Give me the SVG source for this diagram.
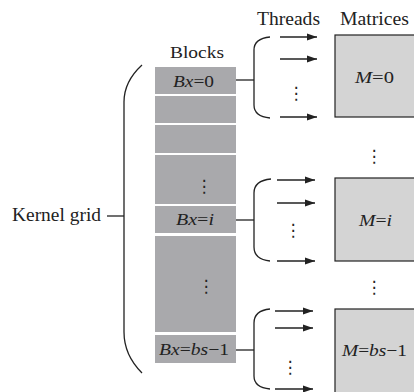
<svg xmlns="http://www.w3.org/2000/svg" width="414" height="392" viewBox="0 0 414 392">
<style>
.t{font-family:"Liberation Serif","Times New Roman",serif;fill:#222}
.i{font-style:italic}
.blk{fill:#a9a9ac}
.mat{fill:#d4d4d4;stroke:#222;stroke-width:1.2}
.ln{fill:none;stroke:#222;stroke-width:1.3}
.ar{fill:none;stroke:#222;stroke-width:1.4;marker-end:url(#ah)}
.dots{font-family:"DejaVu Sans",sans-serif;font-size:17px;fill:#222;text-anchor:middle}
</style>
<defs>
<marker id="ah" markerWidth="10" markerHeight="8" refX="10" refY="4" orient="auto" markerUnits="userSpaceOnUse">
<path d="M0,0.5 L10,4 L0,7.5 Z" fill="#222"/>
</marker>
</defs>
<rect width="414" height="392" fill="#ffffff"/>

<text class="t" x="257" y="25" font-size="18" textLength="63" lengthAdjust="spacingAndGlyphs">Threads</text>
<text class="t" x="340" y="25" font-size="18" textLength="69" lengthAdjust="spacingAndGlyphs">Matrices</text>
<text class="t" x="170" y="58" font-size="17" textLength="54" lengthAdjust="spacingAndGlyphs">Blocks</text>

<g id="kernel-grid">
<text class="t" x="12" y="221" font-size="18.5" textLength="89" lengthAdjust="spacingAndGlyphs">Kernel grid</text>
</g>

<g id="blocks">
<rect class="blk" x="155" y="67" width="81" height="27"/>
<rect class="blk" x="155" y="96" width="81" height="27"/>
<rect class="blk" x="155" y="125" width="81" height="28"/>
<rect class="blk" x="155" y="155" width="81" height="49"/>
<rect class="blk" x="155" y="206" width="81" height="27"/>
<rect class="blk" x="155" y="236" width="81" height="96"/>
<rect class="blk" x="155" y="335" width="81" height="28"/>
<text class="t" x="173" y="87" font-size="16.5" textLength="41" lengthAdjust="spacingAndGlyphs"><tspan class="i">Bx</tspan>=0</text>
<text class="dots" x="204" y="192">⋮</text>
<text class="t" x="176" y="225" font-size="16.5" textLength="38" lengthAdjust="spacingAndGlyphs"><tspan class="i">Bx</tspan>=<tspan class="i">i</tspan></text>
<text class="dots" x="206" y="292">⋮</text>
<text class="t" x="159" y="355" font-size="16.5" textLength="70" lengthAdjust="spacingAndGlyphs"><tspan class="i">Bx</tspan>=<tspan class="i">bs</tspan>−1</text>
</g>

<g id="matrix-0">
<rect class="mat" x="335" y="35" width="85" height="82"/>
<text class="t" x="355" y="83" font-size="16.5" textLength="39" lengthAdjust="spacingAndGlyphs"><tspan class="i">M</tspan>=0</text>
</g>
<g id="matrix-i">
<rect class="mat" x="335" y="178" width="85" height="83"/>
<text class="t" x="359" y="226" font-size="16.5" textLength="33" lengthAdjust="spacingAndGlyphs"><tspan class="i">M</tspan>=<tspan class="i">i</tspan></text>
</g>
<g id="matrix-bs-1">
<rect class="mat" x="335" y="309" width="85" height="90"/>
<text class="t" x="342" y="356" font-size="16.5" textLength="65" lengthAdjust="spacingAndGlyphs"><tspan class="i">M</tspan>=<tspan class="i">bs</tspan>−1</text>
</g>
<text class="dots" x="374" y="162">⋮</text>
<text class="dots" x="374" y="293">⋮</text>

<g id="threads">
<text class="dots" x="296" y="99">⋮</text>
<text class="dots" x="293" y="236">⋮</text>
<text class="dots" x="290" y="373">⋮</text>
</g>

<g id="connectors">
<path class="ln" d="M142,65 C130,76 124,88 124,102 L124,332 C124,348 131,362 142,373"/>
<line class="ln" x1="107" y1="216" x2="124" y2="216"/>

<path class="ln" d="M270,37 C260,38 254,42 254,50 L254,105 C254,113 260,117 270,118"/>
<line class="ln" x1="236" y1="80" x2="254" y2="80"/>
<line class="ar" x1="280" y1="37" x2="317" y2="37"/>
<line class="ar" x1="280" y1="59" x2="317" y2="59"/>
<line class="ar" x1="280" y1="117" x2="317" y2="117"/>

<path class="ln" d="M271,179 C260,180 254,185 254,193 L254,247 C254,255 260,260 270,261"/>
<line class="ln" x1="236" y1="220" x2="254" y2="220"/>
<line class="ar" x1="277" y1="180" x2="315" y2="180"/>
<line class="ar" x1="277" y1="203" x2="315" y2="203"/>
<line class="ar" x1="277" y1="261" x2="315" y2="261"/>

<path class="ln" d="M270,309 C260,310 254,315 254,323 L254,376 C254,384 260,388 270,389"/>
<line class="ln" x1="236" y1="350" x2="254" y2="350"/>
<line class="ar" x1="275" y1="311" x2="313" y2="311"/>
<line class="ar" x1="275" y1="328" x2="313" y2="328"/>
<line class="ar" x1="275" y1="389" x2="313" y2="389"/>
</g>
</svg>
